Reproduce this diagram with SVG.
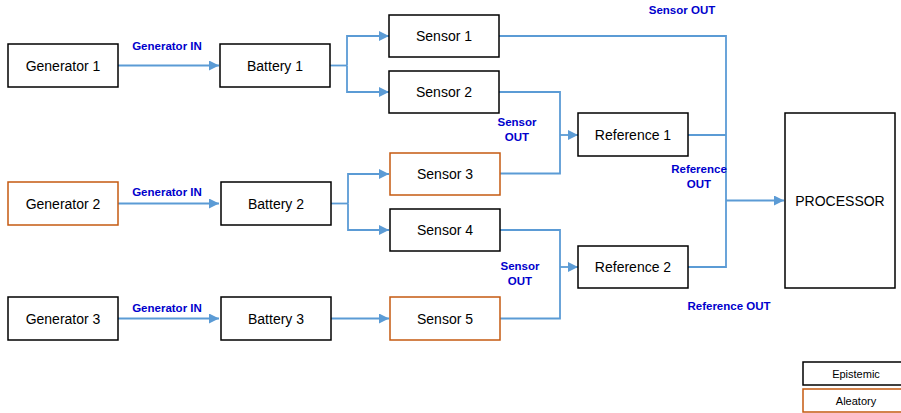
<svg xmlns="http://www.w3.org/2000/svg" width="901" height="413" viewBox="0 0 901 413">
<style>
.n{fill:#fff;stroke:#000;stroke-width:1.5}
.a{fill:#fff;stroke:#C55A11;stroke-width:1.5}
.t{font-family:"Liberation Sans",Arial,sans-serif;font-size:14px;fill:#000;text-anchor:middle;dominant-baseline:central}
.lg{font-family:"Liberation Sans",Arial,sans-serif;font-size:11px;fill:#000;text-anchor:middle;dominant-baseline:central}
.l{font-family:"Liberation Sans",Arial,sans-serif;font-size:11.5px;font-weight:bold;fill:#0000cc;text-anchor:middle}
.c{fill:none;stroke:#5B9BD5;stroke-width:1.8}
.m{marker-end:url(#ah)}
</style>
<defs>
<marker id="ah" markerWidth="10" markerHeight="10" refX="10" refY="5" orient="auto" markerUnits="userSpaceOnUse" viewBox="0 0 10 10">
<path d="M0,0 L10,5 L0,10 Z" fill="#5B9BD5"/>
</marker>
</defs>
<rect width="901" height="413" fill="#fff"/>
<g id="connectors">
<path class="c m" d="M118,65.5 H219"/>
<path class="c" d="M330,65.5 H347"/>
<path class="c m" d="M347,65.5 V36 H389"/>
<path class="c m" d="M347,65.5 V92 H389"/>
<path class="c m" d="M118,203.5 H219"/>
<path class="c" d="M331,203.5 H348"/>
<path class="c m" d="M348,203.5 V174 H389"/>
<path class="c m" d="M348,203.5 V230 H389"/>
<path class="c m" d="M118,318.5 H219"/>
<path class="c m" d="M331,318.5 H389"/>
<path class="c" d="M499,92 H560 V173.5 H500"/>
<path class="c m" d="M560,135 H578"/>
<path class="c" d="M500,230 H560 V318.5 H500"/>
<path class="c m" d="M560,267 H578"/>
<path class="c" d="M499,36 H726 V267 H688"/>
<path class="c" d="M688,135 H726"/>
<path class="c m" d="M726,200.5 H784"/>
</g>
<g id="labels">
<text class="l" x="167" y="50">Generator IN</text>
<text class="l" x="167" y="196">Generator IN</text>
<text class="l" x="167" y="312">Generator IN</text>
<text class="l" x="682" y="14">Sensor OUT</text>
<text class="l" x="517" y="126">Sensor</text>
<text class="l" x="517" y="141">OUT</text>
<text class="l" x="699" y="173">Reference</text>
<text class="l" x="699" y="188">OUT</text>
<text class="l" x="520" y="270">Sensor</text>
<text class="l" x="520" y="285">OUT</text>
<text class="l" x="729" y="310">Reference OUT</text>
</g>
<g id="gen1"><rect class="n" x="8" y="44" width="110" height="43"/><text class="t" x="63" y="65.5">Generator 1</text></g>
<g id="gen2"><rect class="a" x="8" y="182" width="110" height="43"/><text class="t" x="63" y="203.5">Generator 2</text></g>
<g id="gen3"><rect class="n" x="8" y="297" width="110" height="43"/><text class="t" x="63" y="318.5">Generator 3</text></g>
<g id="bat1"><rect class="n" x="220" y="44" width="110" height="43"/><text class="t" x="275" y="65.5">Battery 1</text></g>
<g id="bat2"><rect class="n" x="221" y="182" width="110" height="43"/><text class="t" x="276" y="203.5">Battery 2</text></g>
<g id="bat3"><rect class="n" x="221" y="297" width="110" height="43"/><text class="t" x="276" y="318.5">Battery 3</text></g>
<g id="sen1"><rect class="n" x="389" y="15" width="110" height="42"/><text class="t" x="444" y="36">Sensor 1</text></g>
<g id="sen2"><rect class="n" x="389" y="71" width="110" height="42"/><text class="t" x="444" y="92">Sensor 2</text></g>
<g id="sen3"><rect class="a" x="390" y="153" width="110" height="42"/><text class="t" x="445" y="174">Sensor 3</text></g>
<g id="sen4"><rect class="n" x="390" y="209" width="110" height="42"/><text class="t" x="445" y="230">Sensor 4</text></g>
<g id="sen5"><rect class="a" x="390" y="297" width="110" height="43"/><text class="t" x="445" y="318.5">Sensor 5</text></g>
<g id="ref1"><rect class="n" x="578" y="113" width="110" height="43"/><text class="t" x="633" y="134.5">Reference 1</text></g>
<g id="ref2"><rect class="n" x="578" y="246" width="110" height="42"/><text class="t" x="633" y="267">Reference 2</text></g>
<g id="proc"><rect class="n" x="785" y="113" width="110" height="175"/><text class="t" x="840" y="200.5">PROCESSOR</text></g>
<g id="legend-epistemic"><rect class="n" x="803" y="362" width="102" height="23"/><text class="lg" x="856" y="374">Epistemic</text></g>
<g id="legend-aleatory"><rect class="a" x="803" y="389" width="102" height="23"/><text class="lg" x="856" y="400.5">Aleatory</text></g>
</svg>
